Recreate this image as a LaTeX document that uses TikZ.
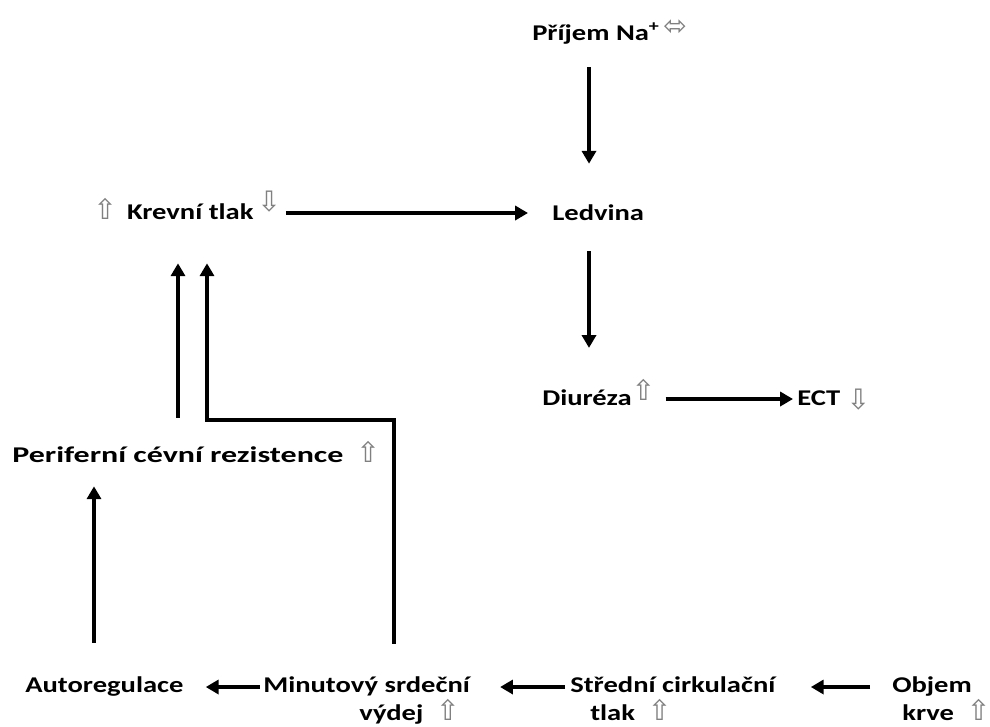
\documentclass[tikz,border=0pt]{standalone}
\usepackage{fontspec}
\setmainfont{Carlito}[FakeStretch=1.27]
\newfontfamily\symfont{DejaVu Sans}
\usetikzlibrary{arrows.meta}

\newcommand{\arrUp}{{\symfont\mdseries\color{black!50}\fontsize{20}{20}\selectfont ⇧}}
\newcommand{\arrDown}{{\symfont\mdseries\color{black!50}\fontsize{20}{20}\selectfont ⇩}}
\newcommand{\arrLR}{{\symfont\mdseries\color{black!50}\fontsize{20}{20}\selectfont ⬄}}

\begin{document}
\begin{tikzpicture}[
        x=0.025cm, y=-0.025cm,
        font=\fontsize{16}{19.9}\selectfont\bfseries,
        lbl/.style={anchor=base west, inner sep=0pt, text height=0.42cm, text depth=0.12cm},
        lbltwo/.style={anchor=base west, inner sep=0pt, align=left},
        flow/.style={-{Triangle[width=0.35cm,length=0.32cm]}, line width=2.4pt}]

  \useasboundingbox (0,0) rectangle (990,726);

  % labels --------------------------------------------------
  \node[lbl] (na)      at (532,40)  {Příjem Na\textsuperscript{+}\,\raisebox{0.12cm}{\arrLR}};
  \node[lbl] (tlak)    at (93,219)  {\arrUp\ \,Krevní tlak\,\raisebox{0.2cm}{\arrDown}};
  \node[lbl] (ledvina) at (552,220) {Ledvina};
  \node[lbl] (diur)    at (542,405) {Diuréza\raisebox{0.12cm}{\arrUp}};
  \node[lbl] (ect)     at (797,405) {ECT\ \raisebox{-0.1cm}{\arrDown}};
  \node[lbl] (per)     at (12,462)  {\scalebox{1.12}[1]{Periferní cévní rezistence}\ \ \arrUp};
  \node[lbl] (auto)    at (25,692)  {Autoregulace};
  \node[lbltwo] (mv)   at (263,720) {Minutový srdeční\\\hspace*{2.4cm}výdej\ \ \arrUp};
  \node[lbltwo] (sc)   at (570,720) {Střední cirkulační\\\hspace*{0.5cm}tlak\ \ \arrUp};
  \node[lbltwo] (obj)  at (892,720) {Objem\\\hspace*{0.25cm}krve\ \ \arrUp};

  % columns and knees ---------------------------------------
  \coordinate (colK)  at (589,0);
  \coordinate (colP)  at (178,0);
  \coordinate (colA)  at (94,0);
  \coordinate (kneeR) at (394,420);
  \coordinate (kneeL) at (207,420);
  \coordinate (rowB)  at (0,687);

  % connectors ----------------------------------------------
  \draw[flow, shorten <=0.55cm, shorten >=0.98cm] (na.south -| colK) -- (ledvina.north -| colK);
  \draw[flow, shorten <=0.12cm, shorten >=0.6cm] (tlak.east) -- (tlak.east -| ledvina.west);
  \draw[flow, shorten <=0.65cm, shorten >=1cm] (ledvina.south -| colK) -- (diur.north -| colK);
  \draw[flow, shorten <=0.25cm, shorten >=0.1cm] (diur.east) -- (diur.east -| ect.west);
  \draw[flow, shorten <=0.68cm, shorten >=0.98cm] (per.north -| colP) -- (tlak.south -| colP);
  \draw[flow, shorten <=0.8cm, shorten >=0.98cm]
        (mv.north -| kneeR) -- (kneeR) -- (kneeL) -- (tlak.south -| kneeL);
  \draw[flow, shorten <=0.8cm, shorten >=0.48cm] (auto.north -| colA) -- (per.south -| colA);
  \draw[flow, shorten <=0.08cm, shorten >=0.55cm] (mv.west |- rowB) -- (auto.east |- rowB);
  \draw[flow, shorten <=0.12cm, shorten >=0.75cm] (sc.west |- rowB) -- (mv.east |- rowB);
  \draw[flow, shorten <=0.55cm, shorten >=0.88cm] (obj.west |- rowB) -- (sc.east |- rowB);

\end{tikzpicture}
\end{document}
